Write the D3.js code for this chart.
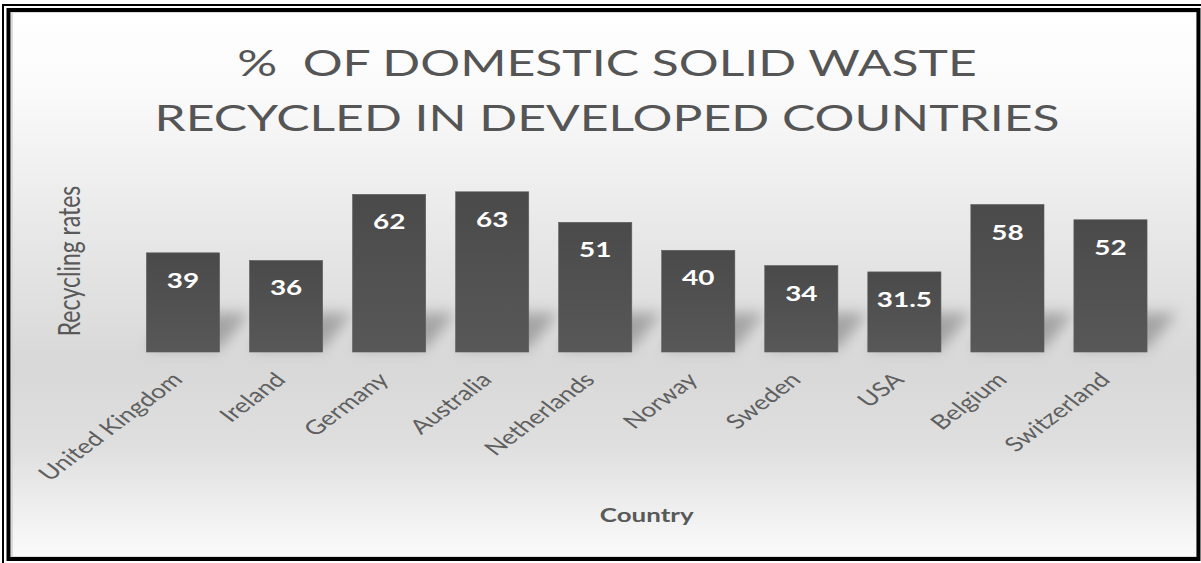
<!DOCTYPE html>
<html>
<head>
<meta charset="utf-8">
<script src="https://cdn.jsdelivr.net/npm/d3@7"></script>
<style>
  html, body { margin: 0; padding: 0; background: #ffffff; }
  svg { display: block; }
</style>
</head>
<body>
<svg id="chart" width="1201" height="563"></svg>
<script>
// ---- data ----
const categories = ["United Kingdom", "Ireland", "Germany", "Australia", "Netherlands",
                    "Norway", "Sweden", "USA", "Belgium", "Switzerland"];
const values = [39, 36, 62, 63, 51, 40, 34, 31.5, 58, 52];
const valueLabels = ["39", "36", "62", "63", "51", "40", "34", "31.5", "58", "52"];
const titleLines = ["%  OF DOMESTIC SOLID WASTE", "RECYCLED IN DEVELOPED COUNTRIES"];
const xAxisTitle = "Country";
const yAxisTitle = "Recycling rates";

// ---- layout ----
const W = 1201, H = 563;
const SX = 1.33; // horizontal stretch of glyphs seen in the reference
const plot = { left: 131.5, right: 1162, top: 174, bottom: 352 };

const svg = d3.select("#chart");
const defs = svg.append("defs");

const bg = defs.append("linearGradient").attr("id", "bgGrad")
  .attr("x1", 0).attr("y1", 0).attr("x2", 0).attr("y2", 1);
[[0, "#ffffff"], [0.15, "#fafafa"], [0.4, "#e8e8e8"], [0.65, "#d8d8d8"], [0.8, "#dfdfdf"], [1, "#fbfbfb"]]
  .forEach(([o, c]) => bg.append("stop").attr("offset", o).attr("stop-color", c));

const barGrad = defs.append("linearGradient").attr("id", "barGrad")
  .attr("x1", 0).attr("y1", 0).attr("x2", 0).attr("y2", 1);
[[0, "#4a4a4a"], [1, "#585858"]]
  .forEach(([o, c]) => barGrad.append("stop").attr("offset", o).attr("stop-color", c));

defs.append("filter").attr("id", "blur").attr("x", "-50%").attr("y", "-50%")
  .attr("width", "200%").attr("height", "200%")
  .append("feGaussianBlur").attr("stdDeviation", 7);

// ---- frame ----
svg.append("rect").attr("x", 12).attr("y", 12).attr("width", 1185).attr("height", 545)
  .attr("fill", "url(#bgGrad)").attr("stroke", "#d0d0d0").attr("stroke-width", 1.5);
svg.append("rect").attr("x", 3).attr("y", 5).attr("width", 1210).attr("height", 600)
  .attr("fill", "none").attr("stroke", "#000").attr("stroke-width", 2);
svg.append("rect").attr("x", 8.5).attr("y", 10).attr("width", 1190).attr("height", 549)
  .attr("fill", "none").attr("stroke", "#000").attr("stroke-width", 4);

// ---- scales ----
const x = d3.scaleBand().domain(categories).range([plot.left, plot.right]).paddingInner(0.29).paddingOuter(0.145);
const y = d3.scaleLinear().domain([0, 70]).range([plot.bottom, plot.top]);

const data = categories.map((c, i) => ({ c, v: values[i], label: valueLabels[i] }));

// ---- shadows ----
svg.append("g").attr("filter", "url(#blur)").attr("opacity", 0.5)
  .selectAll("path").data(data).join("path")
  .attr("d", d => {
    const x0 = x(d.c), x1 = x(d.c) + x.bandwidth(), b = y(0) - 3, h = 36, dx = 30;
    return `M${x0},${b}L${x1},${b}L${x1 + dx},${b - h}L${x0 + dx},${b - h}Z`;
  })
  .attr("fill", "#6a6a6a");

// ---- bars ----
svg.append("g").selectAll("rect").data(data).join("rect")
  .attr("x", d => x(d.c)).attr("width", x.bandwidth())
  .attr("y", d => y(d.v)).attr("height", d => y(0) - y(d.v))
  .attr("fill", "url(#barGrad)").attr("stroke", "#5e5e5e").attr("stroke-width", 0.6);

// ---- data labels ----
svg.append("g").selectAll("g").data(data).join("g")
  .attr("transform", d => `translate(${x(d.c) + x.bandwidth() / 2},${y(d.v) + 35}) scale(${SX},1)`)
  .append("text")
  .attr("text-anchor", "middle")
  .attr("font-family", "Lato, 'Open Sans', sans-serif").attr("font-weight", 700)
  .attr("font-size", 21).attr("fill", "#ffffff")
  .text(d => d.label);

// ---- x axis labels (rotated) ----
svg.append("g").selectAll("g").data(data).join("g")
  .attr("transform", d => `translate(${x(d.c) + x.bandwidth() / 2 + 1},${y(0) + 29}) scale(${SX},1) rotate(-45)`)
  .append("text")
  .attr("text-anchor", "end")
  .attr("font-family", "Lato, 'Open Sans', sans-serif")
  .attr("font-size", 20).attr("fill", "#5f5f5f")
  .text(d => d.c);

// ---- title ----
const tg = svg.append("g");
titleLines.forEach((t, i) => {
  tg.append("g").attr("transform", `translate(${607},${i === 0 ? 76 : 131}) scale(${SX},1)`)
    .append("text").attr("text-anchor", "middle")
    .style("white-space", "pre")
    .attr("font-family", "Lato, 'Open Sans', sans-serif")
    .attr("font-size", 37.5).attr("fill", "#555555")
    .text(t);
});

// ---- axis titles ----
svg.append("g").attr("transform", `translate(${plot.left + (plot.right - plot.left) / 2},522) scale(${SX},1)`)
  .append("text").attr("text-anchor", "middle")
  .attr("font-family", "Lato, 'Open Sans', sans-serif").attr("font-weight", 700)
  .attr("font-size", 19.5).attr("fill", "#595959")
  .text(xAxisTitle);

svg.append("g").attr("transform", `translate(80,261) scale(${SX},1) rotate(-90)`)
  .append("text").attr("text-anchor", "middle")
  .attr("font-family", "Lato, 'Open Sans', sans-serif")
  .attr("font-size", 23).attr("fill", "#595959")
  .text(yAxisTitle);
</script>
</body>
</html>
